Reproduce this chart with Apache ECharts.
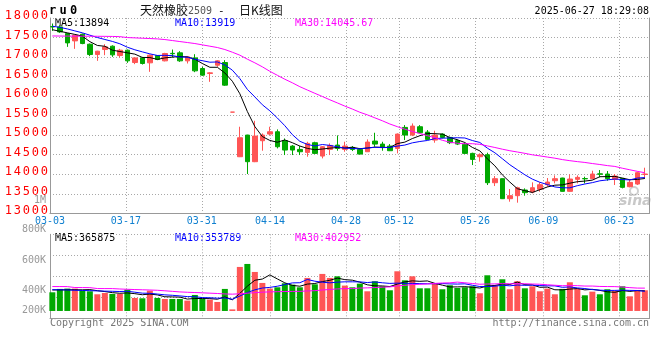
<!DOCTYPE html>
<html><head><meta charset="utf-8">
<script src="https://cdn.jsdelivr.net/npm/echarts@6/dist/echarts.min.js"></script>
<style>html,body{margin:0;padding:0;background:#fff}#c{width:660px;height:360px}</style>
</head><body><div id="c"></div>
<script>
// ---------- data ----------
const tradingDays = ['03-03','03-04','03-05','03-06','03-07','03-10','03-11','03-12','03-13','03-14',
'03-17','03-18','03-19','03-20','03-21','03-24','03-25','03-26','03-27','03-28',
'03-31','04-01','04-02','04-03','04-07','04-08','04-09','04-10','04-11','04-14',
'04-15','04-16','04-17','04-18','04-21','04-22','04-23','04-24','04-25','04-28',
'04-29','04-30','05-06','05-07','05-08','05-09','05-12','05-13','05-14','05-15',
'05-16','05-19','05-20','05-21','05-22','05-23','05-26','05-27','05-28','05-29',
'05-30','06-03','06-04','06-05','06-06','06-09','06-10','06-11','06-12','06-13',
'06-16','06-17','06-18','06-19','06-20','06-23','06-24','06-25','06-26','06-27'];
const xTickLabels = ['03-03','03-17','03-31','04-14','04-28','05-12','05-26','06-09','06-23'];
const priceMin = 13000, priceMax = 18000, priceStep = 500;
const volumeTickLabels = ['1M','800K','600K','400K','200K'];

const opens = [17780,17772,17601,17414,17584,17329,17065,17193,17278,17039,
17176,16860,16979,16852,17039,16903,17095,17108,16903,16979,
16707,16579,16792,16860,15590,14448,15003,14321,14858,15028,
15088,14858,14721,14636,14559,14807,14465,14636,14747,14636,
14687,14636,14576,14849,14772,14721,14661,15199,15003,15216,
15079,14875,15028,14943,14858,14764,14534,14448,14499,13783,
13886,13374,13451,13596,13545,13613,13732,13834,13903,13562,
13869,13890,13886,14010,14005,13869,13894,13681,13749,13995];
const closes = [17770,17644,17363,17559,17346,17065,17150,17261,17056,17176,
16903,16979,16835,17048,16937,17091,17085,16903,17005,16647,
16537,16596,16903,16281,15590,14934,14321,14977,15003,15088,
14704,14619,14619,14576,14790,14534,14704,14738,14661,14721,
14636,14516,14824,14772,14704,14602,15028,15003,15233,15062,
14892,15003,14943,14807,14772,14534,14380,14499,13783,13886,
13374,13451,13655,13528,13655,13732,13800,13886,13562,13877,
13920,13882,14005,14000,13886,13954,13664,13792,14039,14005];
const lows = [17670,17619,17261,17210,17329,17022,16903,17048,17005,16988,
16852,16818,16809,16622,16920,16890,16988,16877,16835,16613,
16520,16366,16750,16264,15590,14440,14005,14310,14602,15003,
14661,14491,14491,14491,14448,14516,14406,14491,14602,14576,
14593,14510,14570,14704,14602,14593,14534,14875,14977,15045,
14875,14807,14917,14772,14747,14516,14235,14321,13724,13698,
13365,13297,13272,13451,13511,13553,13681,13766,13555,13555,
13766,13766,13869,13920,13834,13724,13638,13664,13724,13894];
const highs = [17858,17815,17619,17565,17601,17346,17160,17329,17300,17210,
17193,16988,17005,17065,17048,17108,17193,17150,17022,17073,
16750,16613,16920,16920,15590,15216,15010,15369,15045,15216,
15148,14917,14747,14721,14832,14832,14721,14790,14994,14832,
14721,14661,14892,15062,14832,14772,15045,15258,15301,15258,
15131,15114,15045,14960,14892,14807,14551,14534,14551,13954,
13890,13621,13681,13638,13792,13792,13903,13971,13910,13996,
13971,13937,14090,14108,14082,14005,13900,13851,14065,14167];

const ma5 = [17700,17660,17620,17580,17536,17395,17297,17276,17176,17142,
17109,17075,16990,16988,16940,16978,16999,17013,17004,16946,
16835,16738,16738,16593,16381,16061,15606,15221,14965,14865,
14819,14878,14807,14721,14662,14628,14645,14668,14685,14672,
14692,14654,14672,14694,14690,14684,14786,14822,14914,14986,
15044,15039,15027,14941,14883,14812,14687,14598,14394,14216,
13984,13799,13630,13579,13533,13604,13674,13720,13727,13771,
13809,13825,13849,13937,13939,13945,13902,13859,13867,13891];
const ma10 = [17790,17760,17720,17670,17620,17560,17500,17450,17400,17340,
17252,17186,17133,17082,17041,17044,17037,17001,16996,16943,
16907,16868,16875,16799,16664,16448,16172,15979,15779,15623,
15440,15242,15014,14843,14763,14723,14761,14738,14703,14667,
14660,14650,14670,14690,14681,14688,14720,14747,14804,14838,
14864,14912,14924,14928,14935,14928,14863,14813,14668,14550,
14398,14243,14114,13986,13875,13794,13736,13675,13653,13652,
13707,13750,13785,13832,13855,13878,13864,13855,13902,13915];
const ma30 = [17540,17538,17536,17535,17534,17533,17532,17530,17528,17522,
17499,17491,17482,17474,17465,17448,17423,17397,17372,17346,
17312,17278,17244,17193,17124,17048,16946,16852,16750,16635,
16533,16432,16341,16241,16156,16072,15990,15906,15826,15744,
15669,15587,15520,15444,15369,15286,15218,15154,15095,15043,
14988,14935,14869,14820,14793,14780,14782,14766,14725,14685,
14641,14602,14569,14535,14497,14470,14440,14411,14375,14347,
14323,14302,14274,14249,14221,14200,14154,14114,14074,14039];

const volumes = [331000,391000,397000,397000,361000,349000,296000,319000,302000,302000,
379000,231000,225000,361000,231000,213000,213000,213000,184000,284000,
213000,201000,160000,391000,28000,781000,834000,692000,497000,397000,
420000,491000,467000,420000,586000,473000,657000,586000,615000,450000,
420000,485000,349000,527000,438000,367000,704000,544000,615000,402000,
402000,485000,385000,456000,408000,420000,438000,314000,633000,456000,
562000,385000,527000,402000,438000,349000,397000,296000,391000,509000,
397000,278000,343000,296000,385000,355000,438000,260000,367000,367000];
const volMa5 = [372000,374000,376000,376000,375000,379000,360000,344000,325000,314000,
320000,307000,288000,300000,285000,252000,249000,246000,211000,221000,
221000,219000,208000,250000,198000,312000,439000,545000,566000,640000,
568000,499000,454000,439000,477000,487000,521000,544000,583000,556000,
546000,511000,464000,446000,444000,433000,477000,516000,534000,526000,
533000,490000,458000,426000,427000,431000,421000,407000,443000,452000,
481000,470000,513000,466000,463000,420000,423000,376000,374000,388000,
398000,374000,384000,365000,340000,331000,363000,347000,361000,357000];
const volMa10 = [378000,375000,372000,368000,364000,360000,356000,352000,349000,345000,
349000,333000,316000,313000,300000,286000,278000,267000,255000,253000,
237000,234000,227000,230000,208000,265000,327000,375000,407000,418000,
439000,468000,498000,501000,559000,528000,510000,499000,511000,517000,
517000,516000,504000,515000,500000,489000,494000,490000,490000,485000,
483000,483000,487000,480000,477000,482000,456000,433000,434000,440000,
456000,446000,460000,455000,458000,450000,446000,445000,420000,426000,
409000,398000,380000,369000,364000,365000,369000,365000,363000,349000];
const volMa30 = [433000,433000,432000,416000,415000,414000,398000,397000,397000,390000,
385000,380000,376000,372000,367000,358000,348000,338000,332000,327000,
322000,316000,310000,302000,298000,305000,315000,325000,333000,339000,
342000,345000,347000,348000,355000,360000,372000,381000,391000,396000,
397000,406000,410000,415000,422000,427000,444000,455000,469000,473000,
479000,489000,496000,499000,512000,500000,487000,474000,478000,480000,
485000,482000,484000,483000,478000,474000,465000,456000,448000,450000,
449000,442000,442000,435000,433000,432000,424000,414000,406000,405000];

// ---------- chart ----------
const UP = '#ff5555', DOWN = '#00a800';
const GRIDC = '#a8a8a8', AXISC = '#999999';
const MONO = '"DejaVu Sans Mono", monospace';
const candleData = opens.map((o, i) => {
  const row = [o, closes[i], lows[i], highs[i]];
  // a flat candle (open == close) is drawn red, as in the source
  return closes[i] === o ? { value: row, itemStyle: { color0: UP, borderColor0: UP, color: UP, borderColor: UP } } : row;
});
const volData = volumes.map((v, i) => ({ value: v, itemStyle: { color: closes[i] >= opens[i] ? UP : DOWN } }));
const showTick = (idx, val) => xTickLabels.indexOf(val) >= 0;
const dotted = { type: [1, 2], color: GRIDC, width: 1 };

const chart = echarts.init(document.getElementById('c'), null, { renderer: 'canvas' });
const PT = 18, PH = 195.3, VT = 234.3, VH = 84;
const txt = (x, y, text, fill, font, align) => ({
  type: 'text', x: x, y: y, silent: true,
  style: { text: text, fill: fill, font: font, align: align || 'left', verticalAlign: 'middle' }
});
const volLabelY = [200, 229.5, 260.3, 290.3, 310.3];

chart.setOption({
  animation: false,
  backgroundColor: '#fff',
  grid: [
    { left: 50, top: PT, width: 599.5, height: PH },
    { left: 48.6, top: PT, width: 600, height: PH },
    { left: 50, top: VT, width: 599.5, height: VH },
    { left: 48.6, top: VT, width: 600, height: VH }
  ],
  xAxis: [
    { type: 'category', gridIndex: 0, data: tradingDays, boundaryGap: false,
      axisLine: { onZero: false, lineStyle: { color: AXISC } }, axisTick: { show: false },
      axisLabel: { interval: showTick, color: '#1080d0', fontFamily: MONO, fontSize: 10, margin: 3 },
      splitLine: { show: true, interval: showTick, lineStyle: dotted } },
    { type: 'category', gridIndex: 1, data: tradingDays, boundaryGap: true, show: false },
    { type: 'category', gridIndex: 2, data: tradingDays, boundaryGap: false,
      axisLine: { onZero: false, lineStyle: { color: AXISC } }, axisTick: { show: false },
      axisLabel: { show: false },
      splitLine: { show: true, interval: showTick, lineStyle: dotted } },
    { type: 'category', gridIndex: 3, data: tradingDays, boundaryGap: true, show: false }
  ],
  yAxis: [
    { type: 'value', gridIndex: 0, min: priceMin, max: priceMax, interval: priceStep, position: 'left',
      axisLine: { show: true, lineStyle: { color: AXISC } }, axisTick: { show: false },
      axisLabel: { margin: 2, padding: [0, 0, 4, 0],
        formatter: v => String(v).split('').map(ch => '{d|' + ch + '}').join(''),
        rich: { d: { width: 9, fontFamily: MONO, fontSize: 12, color: '#ff0000' } } },
      splitLine: { show: true, lineStyle: dotted } },
    { type: 'value', gridIndex: 0, min: 0, max: 1, position: 'right',
      axisLine: { show: true, lineStyle: { color: AXISC } }, axisTick: { show: false },
      axisLabel: { show: false }, splitLine: { show: false } },
    { type: 'value', gridIndex: 1, min: priceMin, max: priceMax, show: false, splitLine: { show: false } },
    { type: 'value', gridIndex: 2, min: 0, max: 4, interval: 1, position: 'left',
      axisLine: { show: true, lineStyle: { color: AXISC } }, axisTick: { show: false },
      axisLabel: { show: false }, splitLine: { show: true, lineStyle: dotted } },
    { type: 'value', gridIndex: 2, min: 0, max: 1, position: 'right',
      axisLine: { show: true, lineStyle: { color: AXISC } }, axisTick: { show: false },
      axisLabel: { show: false }, splitLine: { show: false } },
    { type: 'value', gridIndex: 3, min: -130000, max: 1360000, show: false, splitLine: { show: false } }
  ],
  series: [
    { type: 'candlestick', xAxisIndex: 1, yAxisIndex: 2, data: candleData, barWidth: 5,
      itemStyle: { color: UP, color0: DOWN, borderColor: UP, borderColor0: DOWN, borderWidth: 1 } },
    { type: 'line', xAxisIndex: 1, yAxisIndex: 2, data: ma5, symbol: 'none', lineStyle: { color: '#000', width: 1 } },
    { type: 'line', xAxisIndex: 1, yAxisIndex: 2, data: ma10, symbol: 'none', lineStyle: { color: '#0000ff', width: 1 } },
    { type: 'line', xAxisIndex: 1, yAxisIndex: 2, data: ma30, symbol: 'none', lineStyle: { color: '#ff00ff', width: 1 } },
    { type: 'bar', xAxisIndex: 3, yAxisIndex: 5, data: volData, barWidth: 6 },
    { type: 'line', xAxisIndex: 3, yAxisIndex: 5, data: volMa5, symbol: 'none', lineStyle: { color: '#000', width: 1 } },
    { type: 'line', xAxisIndex: 3, yAxisIndex: 5, data: volMa10, symbol: 'none', lineStyle: { color: '#0000ff', width: 1 } },
    { type: 'line', xAxisIndex: 3, yAxisIndex: 5, data: volMa30, symbol: 'none', lineStyle: { color: '#ff00ff', width: 1 } }
  ],
  graphic: [
    { type: 'text', x: 49, y: 11, silent: true,
      style: { text: '{a|r}{a|u}{a|0}', verticalAlign: 'middle',
        rich: { a: { width: 10.5, font: 'bold 12px ' + MONO, fill: '#000' } } } },
    txt(140, 10, '天然橡胶', '#111', '12px "Noto Sans CJK SC"'),
    txt(188, 11, '2509', '#555', '10px ' + MONO),
    txt(218, 11, '-', '#111', '11px ' + MONO),
    txt(239, 10, '日K线图', '#111', '12px "Noto Sans CJK SC"'),
    txt(649, 11, '2025-06-27 18:29:08', '#000', '10px ' + MONO, 'right'),
    txt(55, 23.5, 'MA5:13894', '#000', '10px ' + MONO),
    txt(175, 23.5, 'MA10:13919', '#0000ff', '10px ' + MONO),
    txt(295, 23.5, 'MA30:14045.67', '#ff00ff', '10px ' + MONO),
    txt(55, 238.5, 'MA5:365875', '#000', '10px ' + MONO),
    txt(175, 238.5, 'MA10:353789', '#0000ff', '10px ' + MONO),
    txt(295, 238.5, 'MA30:402952', '#ff00ff', '10px ' + MONO),
    ...volumeTickLabels.map((t, i) => txt(46, volLabelY[i], t, '#999', '10px ' + MONO, 'right')),
    txt(50, 323.5, 'Copyright 2025 SINA.COM', '#777', '10px ' + MONO),
    txt(649, 323.5, 'http://finance.sina.com.cn', '#777', '10px ' + MONO, 'right'),
    { type: 'circle', silent: true, shape: { cx: 634, cy: 191, r: 4 }, style: { fill: 'none', stroke: '#d0d0d0', lineWidth: 2 } },
    txt(619, 201, 'sina', '#c8c8c8', 'italic bold 14px "DejaVu Sans"')
  ]
});
</script>
</body></html>
